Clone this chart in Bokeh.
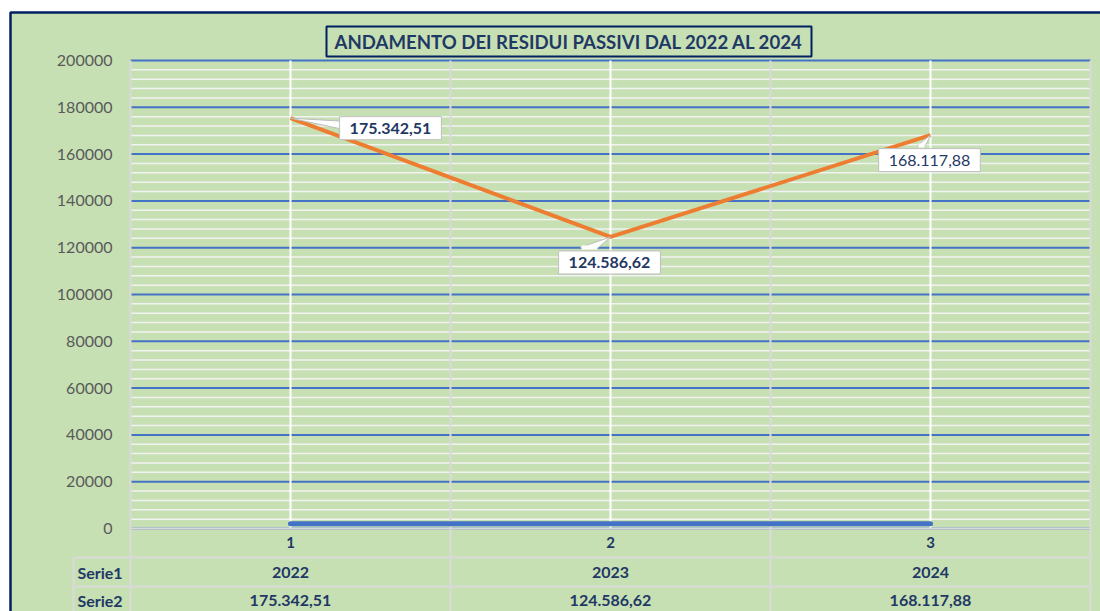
from bokeh.plotting import figure
from bokeh.models import Range1d
from bokeh.core.properties import value
from bokeh.embed import file_html
from bokeh.resources import INLINE

# ---------------- data ----------------
categories = [1, 2, 3]
serie1 = [2022, 2023, 2024]
serie2 = [175342.51, 124586.62, 168117.88]
series_names = ["Serie1", "Serie2"]
title_text = "ANDAMENTO DEI RESIDUI PASSIVI DAL 2022 AL 2024"
y_ticks = list(range(0, 200001, 20000))
y_minor = [t for t in range(0, 200001, 4000) if t % 20000 != 0]
cat_labels = ["1", "2", "3"]


def it_fmt(v):
    s = f"{v:,.2f}"
    return s.replace(",", "X").replace(".", ",").replace("X", ".")


# ---------------- style / layout ----------------
GREEN = "#C6E0B4"
NAVY = "#1F3864"
BORDER_NAVY = "#002060"
BLUE = "#4472C4"
ORANGE = "#ED7D31"
GRAY = "#D9D9D9"
MINOR = "#F2F2F2"
CALLOUT = "#BFBFBF"
FONT = "Lato"

W, H = 1100, 611
PL, PR, PT, PB = 130, 1090, 60, 528          # plot area in page px
X0, X1 = categories[0] - 0.5, categories[-1] + 0.5
Y0, Y1 = y_ticks[0], y_ticks[-1]
kx = (X1 - X0) / (PR - PL)
ky = (Y1 - Y0) / (PB - PT)

p = figure(width=W, height=H, x_range=Range1d(0, W), y_range=Range1d(H, 0),
           x_axis_location=None, y_axis_location=None, min_border=0,
           output_backend="svg", toolbar_location=None)
p.extra_x_ranges = {"d": Range1d(X0 - PL * kx, X1 + (W - PR) * kx)}
p.extra_y_ranges = {"d": Range1d(Y0 - (H - PB) * ky, Y1 + PT * ky)}
p.background_fill_color = "white"
p.border_fill_color = "white"
p.outline_line_color = None
p.grid.visible = False
D = dict(x_range_name="d", y_range_name="d")

# chart area (green, navy border)
p.quad(left=[10], right=[W + 10], top=[12], bottom=[H + 10], fill_color=GREEN,
       line_color=BORDER_NAVY, line_width=2.5)

# horizontal gridlines
p.segment(x0=[X0] * len(y_minor), x1=[X1] * len(y_minor), y0=y_minor, y1=y_minor,
          line_color=MINOR, line_width=1.5, **D)
p.segment(x0=[X0] * len(y_ticks), x1=[X1] * len(y_ticks), y0=y_ticks, y1=y_ticks,
          line_color=BLUE, line_width=2, **D)
# vertical white gridlines at categories
p.segment(x0=categories, x1=categories, y0=[Y0] * 3, y1=[Y1] * 3,
          line_color="white", line_width=2, **D)

# gray category boundaries through plot + table
bounds = [c - 0.5 for c in categories] + [categories[-1] + 0.5]
ybot = Y0 - (H - PB + 20) * ky
p.segment(x0=bounds, x1=bounds, y0=[Y1] * len(bounds), y1=[ybot] * len(bounds),
          line_color=GRAY, line_width=2, **D)
p.segment(x0=[X0], x1=[X1], y0=[Y0], y1=[Y0], line_color=GRAY, line_width=2, **D)
# table row lines (page px)
TL = 73
row_lines = [557, 586]
p.segment(x0=[TL] * 2, x1=[PR] * 2, y0=row_lines, y1=row_lines, line_color=GRAY, line_width=2)
p.segment(x0=[TL], x1=[TL], y0=[row_lines[0]], y1=[H + 10], line_color=GRAY, line_width=2)

# series
p.line(categories, serie1, line_color=BLUE, line_width=5, line_cap="round", **D)
p.line(categories, serie2, line_color=ORANGE, line_width=4, **D)

# y tick labels
p.text(x=[X0] * len(y_ticks), y=y_ticks, text=[str(t) for t in y_ticks], x_offset=-18,
       text_font=value(FONT), text_font_size="16px", text_color="#595959",
       text_align="right", text_baseline="middle", **D)

# category labels + table rows
ROW_Y = [542, 572, 600]
txt = dict(text_font=value(FONT), text_font_size="16px", text_font_style="bold",
           text_color=NAVY, text_baseline="middle")
p.text(x=categories, y=[ROW_Y[0]] * 3, text=cat_labels, text_align="center",
       x_range_name="d", **{**txt, "text_font_size": "15px"})
p.text(x=categories, y=[ROW_Y[1]] * 3, text=[str(v) for v in serie1], text_align="center",
       x_range_name="d", **txt)
p.text(x=categories, y=[ROW_Y[2]] * 3, text=[it_fmt(v) for v in serie2], text_align="center",
       x_range_name="d", **txt)
p.text(x=[77, 77], y=ROW_Y[1:], text=series_names, text_align="left", **txt)

# title
p.quad(left=[326], right=[811], top=[26], bottom=[56], fill_color=GREEN,
       line_color=BORDER_NAVY, line_width=2)
p.text(x=[568.5], y=[41], text=[title_text], text_align="center", text_baseline="middle",
       text_font=value(FONT), text_font_size="18.6px", text_font_style="bold", text_color=NAVY)

# data label callouts (offsets in px, y down)
label_offsets = [(100, 10), (-1, 25.5), (-1, 25)]
pointer_base = [((52, 3), (52, 11)), ((-30, 10.5), (-12, 10.5)), ((-13, 10.5), (-5, 10.5))]
label_styles = ["bold", "bold", "normal"]
for c, v, off, pb, st in zip(categories, serie2, label_offsets, pointer_base, label_styles):
    (ax, ay), (bx, by) = pb
    p.patch(x=[c, c + ax * kx, c + bx * kx], y=[v, v - ay * ky, v - by * ky],
            fill_color="white", line_color=CALLOUT, line_width=1, **D)
    p.text(x=[c], y=[v], x_offset=off[0], y_offset=off[1], text=[it_fmt(v)],
           text_font=value(FONT), text_font_size="16px", text_font_style=st,
           text_color=NAVY, text_align="center", text_baseline="middle",
           background_fill_color="white", background_fill_alpha=1,
           border_line_color=CALLOUT, border_line_width=1, padding=(10, 6), **D)
    if ax == bx:   # vertical base
        cx = [ax - 2, ax + 2, ax + 2, ax - 2]
        cy = [ay + 1, ay + 1, by - 1, by - 1]
    else:          # horizontal base
        cx = [ax + 1, bx - 1, bx - 1, ax + 1]
        cy = [ay - 2, ay - 2, ay + 2, ay + 2]
    p.patch(x=[c + q * kx for q in cx], y=[v - q * ky for q in cy],
            fill_color="white", line_alpha=0, **D)

open("out.html", "w").write(file_html(p, INLINE))
